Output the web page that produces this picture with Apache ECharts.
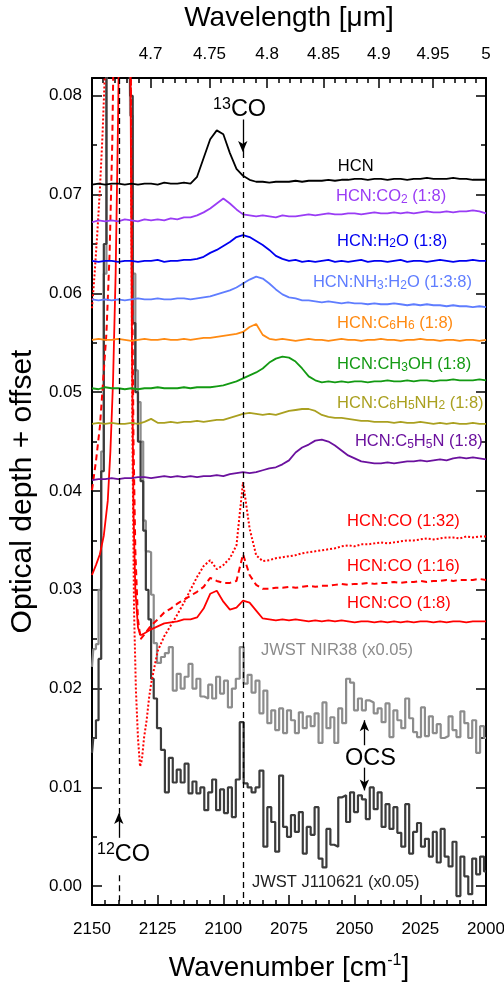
<!DOCTYPE html>
<html><head><meta charset="utf-8">
<script src="https://cdn.jsdelivr.net/npm/echarts@6/dist/echarts.min.js"></script>
<style>html,body{margin:0;padding:0;background:#fff}#c{width:504px;height:988px}</style>
</head><body><div id="c"></div>
<script>
// ---------------- DATA ----------------
// laboratory wavenumber grid (cm-1)
const labWn = [2150,2147.5,2145,2142.5,2140,2137.5,2135,2132.5,2130,2127.5,
 2125,2122.5,2120,2117.5,2115,2112.5,2110,2107.5,2105,2102.5,
 2100,2097.5,2095,2092.5,2090,2087.5,2085,2082.5,2080,2077.5,
 2075,2072.5,2070,2067.5,2065,2062.5,2060,2057.5,2055,2052.5,
 2050,2047.5,2045,2042.5,2040,2037.5,2035,2032.5,2030,2027.5,
 2025,2022.5,2020,2017.5,2015,2012.5,2010,2007.5,2005,2002.5,
 2000];
const hcn = [0.0710,0.0711,0.0710,0.0711,0.0711,0.0710,0.0711,0.0710,0.0711,0.0711,
 0.0710,0.0712,0.0711,0.0711,0.0712,0.0711,0.0718,0.0737,0.0756,0.0765,
 0.0761,0.0742,0.0726,0.0719,0.0715,0.0713,0.0713,0.0712,0.0713,0.0713,
 0.0713,0.0714,0.0713,0.0714,0.0714,0.0714,0.0715,0.0714,0.0715,0.0715,
 0.0716,0.0716,0.0715,0.0716,0.0716,0.0715,0.0716,0.0716,0.0715,0.0716,
 0.0716,0.0717,0.0716,0.0716,0.0716,0.0717,0.0716,0.0716,0.0715,0.0715,
 0.0715];
const hcnCo2 = [0.0672,0.0674,0.0673,0.0674,0.0673,0.0675,0.0674,0.0673,0.0675,0.0674,
 0.0675,0.0674,0.0676,0.0675,0.0677,0.0677,0.0679,0.0682,0.0686,0.0691,
 0.0696,0.0691,0.0685,0.0680,0.0679,0.0678,0.0679,0.0678,0.0677,0.0679,
 0.0678,0.0678,0.0679,0.0680,0.0679,0.0680,0.0681,0.0680,0.0680,0.0681,
 0.0681,0.0680,0.0681,0.0682,0.0681,0.0681,0.0682,0.0681,0.0682,0.0681,
 0.0682,0.0683,0.0682,0.0682,0.0683,0.0682,0.0683,0.0683,0.0684,0.0683,
 0.0681];
const hcnH2o = [0.0633,0.0632,0.0633,0.0633,0.0632,0.0633,0.0633,0.0632,0.0633,0.0633,
 0.0634,0.0632,0.0633,0.0633,0.0634,0.0634,0.0635,0.0637,0.0641,0.0644,
 0.0648,0.0652,0.0657,0.0659,0.0657,0.0653,0.0649,0.0644,0.0638,0.0635,
 0.0633,0.0634,0.0632,0.0633,0.0632,0.0633,0.0634,0.0632,0.0633,0.0632,
 0.0633,0.0634,0.0632,0.0633,0.0633,0.0632,0.0633,0.0634,0.0632,0.0633,
 0.0633,0.0632,0.0633,0.0634,0.0633,0.0632,0.0633,0.0633,0.0634,0.0633,
 0.0633];
const hcnNh3H2o = [0.0594,0.0593,0.0594,0.0593,0.0594,0.0593,0.0594,0.0595,0.0594,0.0594,
 0.0595,0.0594,0.0594,0.0595,0.0595,0.0594,0.0595,0.0596,0.0597,0.0599,
 0.0601,0.0603,0.0606,0.0610,0.0614,0.0617,0.0615,0.0610,0.0604,0.0599,
 0.0596,0.0595,0.0593,0.0593,0.0592,0.0591,0.0592,0.0591,0.0590,0.0591,
 0.0590,0.0590,0.0589,0.0590,0.0589,0.0589,0.0590,0.0589,0.0588,0.0589,
 0.0588,0.0589,0.0588,0.0588,0.0587,0.0588,0.0587,0.0587,0.0586,0.0587,
 0.0586];
const hcnC6h6 = [0.0553,0.0554,0.0553,0.0553,0.0554,0.0553,0.0552,0.0553,0.0554,0.0553,
 0.0553,0.0554,0.0553,0.0553,0.0554,0.0553,0.0554,0.0555,0.0555,0.0556,
 0.0557,0.0558,0.0559,0.0561,0.0566,0.0569,0.0558,0.0554,0.0553,0.0554,
 0.0553,0.0552,0.0553,0.0554,0.0553,0.0553,0.0552,0.0553,0.0554,0.0553,
 0.0553,0.0552,0.0553,0.0553,0.0554,0.0553,0.0553,0.0552,0.0553,0.0553,
 0.0554,0.0553,0.0553,0.0552,0.0553,0.0553,0.0552,0.0553,0.0553,0.0552,
 0.0553];
const hcnCh3oh = [0.0504,0.0503,0.0505,0.0504,0.0504,0.0503,0.0504,0.0503,0.0504,0.0504,
 0.0505,0.0504,0.0504,0.0504,0.0505,0.0504,0.0505,0.0505,0.0505,0.0506,
 0.0507,0.0509,0.0511,0.0514,0.0517,0.0520,0.0524,0.0530,0.0534,0.0536,
 0.0535,0.0531,0.0524,0.0516,0.0512,0.0510,0.0511,0.0510,0.0511,0.0510,
 0.0511,0.0511,0.0510,0.0511,0.0511,0.0512,0.0511,0.0511,0.0512,0.0511,
 0.0512,0.0512,0.0511,0.0512,0.0512,0.0513,0.0512,0.0512,0.0512,0.0513,
 0.0512];
const hcnAniline = [0.0468,0.0469,0.0468,0.0469,0.0468,0.0468,0.0469,0.0468,0.0470,0.0473,
 0.0469,0.0469,0.0470,0.0469,0.0470,0.0470,0.0471,0.0470,0.0471,0.0472,
 0.0472,0.0474,0.0476,0.0478,0.0479,0.0478,0.0477,0.0478,0.0477,0.0479,
 0.0481,0.0482,0.0483,0.0483,0.0481,0.0477,0.0475,0.0474,0.0474,0.0473,
 0.0472,0.0471,0.0471,0.0470,0.0470,0.0470,0.0469,0.0470,0.0469,0.0469,
 0.0470,0.0469,0.0468,0.0469,0.0468,0.0469,0.0468,0.0468,0.0469,0.0468,
 0.0468];
const hcnPyridine = [0.0411,0.0412,0.0412,0.0413,0.0412,0.0413,0.0413,0.0414,0.0414,0.0413,
 0.0414,0.0415,0.0414,0.0415,0.0414,0.0415,0.0414,0.0415,0.0415,0.0416,
 0.0415,0.0417,0.0418,0.0419,0.0418,0.0419,0.0421,0.0423,0.0424,0.0427,
 0.0431,0.0439,0.0444,0.0447,0.0451,0.0452,0.0450,0.0446,0.0441,0.0436,
 0.0433,0.0430,0.0429,0.0428,0.0428,0.0429,0.0428,0.0429,0.0430,0.0430,
 0.0431,0.0430,0.0431,0.0432,0.0431,0.0433,0.0434,0.0433,0.0434,0.0433,
 0.0432];
// HCN:CO mixtures: steep 12CO part on its own wavenumbers, then the lab grid
const co8EdgeWn = [2150,2148.5,2147,2145.5,2144,2143,2142,2141,2140,2139,2138,2137,2136,2135.3,2134.8,2134.2,2133.5,2132.5,2131.5];
const co8Edge = [0.0315,0.0325,0.0336,0.0355,0.0390,0.0440,0.0510,0.0620,0.0790,0.105,0.130,0.130,0.110,0.080,0.055,0.038,0.030,0.0262,0.0254];
const co8Tail = [0.0256,0.0260,
 0.0263,0.0266,0.0267,0.0268,0.0270,0.0270,0.0272,0.0281,0.0296,0.0299,
 0.0288,0.0280,0.0282,0.0289,0.0287,0.0279,0.0271,0.0270,0.0269,0.0270,
 0.0269,0.0270,0.0269,0.0268,0.0269,0.0268,0.0269,0.0268,0.0269,0.0268,
 0.0267,0.0268,0.0268,0.0267,0.0268,0.0267,0.0268,0.0267,0.0268,0.0267,
 0.0268,0.0268,0.0267,0.0268,0.0267,0.0268,0.0268,0.0267,0.0268,0.0268,
 0.0268];
const co16EdgeWn = [2150,2148.5,2147,2145.8,2144.5,2143.3,2142.3,2141.5,2140,2138,2136.5,2135.5,2134.8,2134.2,2133.5,2132.5,2131.5];
const co16Edge = [0.0401,0.0430,0.0465,0.0510,0.0560,0.0640,0.0750,0.0900,0.150,0.200,0.150,0.095,0.065,0.045,0.034,0.0270,0.0250];
const co16Tail = [0.0255,0.0264,
 0.0270,0.0277,0.0281,0.0286,0.0290,0.0294,0.0298,0.0303,0.0312,0.0309,
 0.0307,0.0307,0.0309,0.0336,0.0315,0.0305,0.0301,0.0301,0.0302,0.0302,
 0.0303,0.0302,0.0303,0.0304,0.0303,0.0304,0.0304,0.0305,0.0306,0.0305,
 0.0306,0.0306,0.0307,0.0306,0.0307,0.0307,0.0308,0.0307,0.0308,0.0308,
 0.0309,0.0308,0.0309,0.0309,0.0310,0.0309,0.0310,0.0310,0.0310,0.0311,
 0.0310];
const co32EdgeWn = [2150,2149,2148,2147,2146,2145,2144,2142,2139,2137,2136,2135.2,2134.6,2134,2133.3,2132.5,2131.7,2131,2130.2,2129.2,2128.3];
const co32Edge = [0.0585,0.0620,0.0660,0.0705,0.0760,0.0830,0.095,0.150,0.250,0.200,0.120,0.080,0.045,0.028,0.020,0.0150,0.0121,0.0128,0.0150,0.0168,0.0190];
const co32Tail = [0.0205,
 0.0238,0.0253,0.0264,0.0275,0.0287,0.0300,0.0313,0.0324,0.0330,0.0321,
 0.0325,0.0332,0.0345,0.0409,0.0362,0.0335,0.0329,0.0330,0.0332,0.0333,
 0.0334,0.0335,0.0337,0.0338,0.0339,0.0340,0.0341,0.0342,0.0344,0.0345,
 0.0344,0.0346,0.0346,0.0347,0.0348,0.0347,0.0348,0.0349,0.0350,0.0350,
 0.0351,0.0352,0.0351,0.0352,0.0353,0.0353,0.0352,0.0354,0.0353,0.0354,
 0.0354];
// JWST spectra (scaled x0.05)
const jwstEdgeWn = [2150,2149,2148,2147,2146,2145,2144,2142,2140,2138,2136,2135,2134,2133,2132,2131,2130,2129,2128,2127];
const jwstGridWn = [2126,2124.5,2123,2121.5,2120,2118.5,2117,2115.5,2114,2112.5,
 2111,2109.5,2108,2106.5,2105,2103.5,2102,2100.5,2099,2097.5,
 2096,2094.5,2093,2091.5,2090,2088.5,2087,2085.5,2084,2082.5,
 2081,2079.5,2078,2076.5,2075,2073.5,2072,2070.5,2069,2067.5,
 2066,2064.5,2063,2061.5,2060,2058.5,2057,2055.5,2054,2052.5,
 2051,2049.5,2048,2046.5,2045,2043.5,2042,2040.5,2039,2037.5,
 2036,2034.5,2033,2031.5,2030,2028.5,2027,2025.5,2024,2022.5,
 2021,2019.5,2018,2016.5,2015,2013.5,2012,2010.5,2009,2007.5,
 2006,2004.5,2003,2001.5,2000];
const nir38Edge = [0.0222,0.0240,0.0245,0.0300,0.0440,0.0620,0.0850,0.120,0.140,0.140,0.110,0.078,0.062,0.0522,0.0490,0.0450,0.0370,0.0339,0.0338,0.0295];
const nir38 = [0.0246,0.0226,0.0232,0.0236,0.0242,0.0198,0.0215,0.0200,0.0212,0.0225,
 0.0200,0.0210,0.0192,0.0190,0.0204,0.0190,0.0212,0.0195,0.0208,0.0181,
 0.0200,0.0210,0.0242,0.0205,0.0214,0.0196,0.0208,0.0175,0.0198,0.0165,
 0.0178,0.0158,0.0180,0.0155,0.0178,0.0168,0.0155,0.0176,0.0160,0.0172,
 0.0162,0.0175,0.0145,0.0186,0.0160,0.0171,0.0145,0.0180,0.0165,0.0210,
 0.0206,0.0178,0.0190,0.0178,0.0188,0.0186,0.0175,0.0180,0.0166,0.0185,
 0.0151,0.0178,0.0168,0.0160,0.0190,0.0170,0.0156,0.0151,0.0181,0.0152,
 0.0172,0.0155,0.0164,0.0150,0.0152,0.0172,0.0158,0.0151,0.0177,0.0165,
 0.0150,0.0168,0.0135,0.0162,0.0150];
const j110621Edge = [0.0135,0.0150,0.0168,0.0230,0.0420,0.0650,0.0900,0.130,0.150,0.150,0.120,0.080,0.057,0.050,0.045,0.041,0.036,0.030,0.027,0.021];
const j110621 = [0.0190,0.0160,0.0138,0.0095,0.0130,0.0105,0.0118,0.0105,0.0124,0.0094,
 0.0106,0.0094,0.0100,0.0077,0.0095,0.0108,0.0077,0.0098,0.0074,0.0100,
 0.0070,0.0108,0.0166,0.0104,0.0100,0.0095,0.0100,0.0117,0.0040,0.0080,
 0.0065,0.0035,0.0112,0.0060,0.0050,0.0072,0.0055,0.0075,0.0033,0.0060,
 0.0052,0.0080,0.0028,0.0019,0.0058,0.0042,0.0040,0.0090,0.0092,0.0065,
 0.0095,0.0075,0.0092,0.0088,0.0068,0.0100,0.0078,0.0095,0.0060,0.0083,
 0.0058,0.0080,0.0054,0.0040,0.0083,0.0033,0.0055,0.0064,0.0040,0.0048,
 0.0030,0.0055,0.0024,0.0058,0.0030,0.0020,0.0045,-0.0010,0.0030,0.0010,
 -0.0008,0.0028,0.0012,0.0030,0.0015];
// axis ticks
const yMajor = [0,0.01,0.02,0.03,0.04,0.05,0.06,0.07,0.08];
const yMinor = [0.005,0.015,0.025,0.035,0.045,0.055,0.065,0.075];
const wlMajor = [4.7,4.75,4.8,4.85,4.9,4.95,5.0];
const wlMinor = [4.66,4.67,4.68,4.69,4.71,4.72,4.73,4.74,4.76,4.77,4.78,4.79,4.81,4.82,4.83,4.84,
 4.86,4.87,4.88,4.89,4.91,4.92,4.93,4.94,4.96,4.97,4.98,4.99];
// line positions of 12CO and 13CO
const co12Wn = 2139.8, co13Wn = 2092.6, ocsWn = 2046.3;

// ---------------- CHART ----------------
const FONT = '"Liberation Sans", Arial, Helvetica, sans-serif';
const Y_MIN = -0.0019, Y_MAX = 0.0818;
const chart = echarts.init(document.getElementById('c'));
const pairs = (wn, v) => wn.map((w, i) => [w, v[i]]);
function line(name, data, color, width, type, extra) {
  return Object.assign({
    name, type: 'line', data, xAxisIndex: 0, yAxisIndex: 0,
    showSymbol: false, symbol: 'none', silent: true, animation: false,
    lineStyle: { color, width, type: type || 'solid' }, itemStyle: { color }
  }, extra || {});
}
const wlToWn = l => 1e4 / l;
const frame = { show: true, onZero: false, lineStyle: { color: '#000', width: 2 } };
const noLine = { show: false, onZero: false };
const tickStyle = { color: '#000', width: 1.5 };

const option = {
  animation: false,
  backgroundColor: '#fff',
  grid: { left: 92, right: 18, top: 78, bottom: 83, containLabel: false, outerBoundsMode: 'none' },
  xAxis: [
    { type: 'value', min: 2000, max: 2150, interval: 25, inverse: true, position: 'bottom',
      axisLine: frame, splitLine: { show: false },
      axisTick: { inside: true, length: 10, lineStyle: tickStyle },
      minorTick: { show: true, splitNumber: 5, length: 5, lineStyle: tickStyle },
      axisLabel: { fontSize: 17, color: '#000', fontFamily: FONT, margin: 16, formatter: v => String(v) },
      name: 'Wavenumber [cm{sup|-1}]', nameLocation: 'middle', nameGap: 48,
      nameTextStyle: { fontSize: 28, color: '#000', fontFamily: FONT, lineHeight: 30,
        rich: { sup: { fontSize: 16, verticalAlign: 'top', lineHeight: 8, fontFamily: FONT } } } },
    { type: 'value', min: 2000, max: 2150, inverse: true, position: 'top',
      axisLine: frame, splitLine: { show: false },
      axisTick: { inside: true, length: 10, lineStyle: tickStyle, customValues: wlMajor.map(wlToWn) },
      axisLabel: { fontSize: 17, color: '#000', fontFamily: FONT, margin: 15,
        customValues: wlMajor.map(wlToWn), formatter: v => String(+(1e4 / v).toFixed(2)) },
      name: 'Wavelength [μm]', nameLocation: 'middle', nameGap: 46,
      nameTextStyle: { fontSize: 28, color: '#000', fontFamily: FONT } },
    { type: 'value', min: 2000, max: 2150, inverse: true, position: 'top',
      axisLine: noLine, splitLine: { show: false }, axisLabel: { show: false },
      axisTick: { inside: true, length: 5, lineStyle: tickStyle, customValues: wlMinor.map(wlToWn) } }
  ],
  yAxis: [
    { type: 'value', min: Y_MIN, max: Y_MAX, position: 'left',
      axisLine: frame, splitLine: { show: false },
      axisTick: { inside: true, length: 10, lineStyle: tickStyle, customValues: yMajor },
      axisLabel: { fontSize: 17, color: '#000', fontFamily: FONT, margin: 10,
        customValues: yMajor, formatter: v => v.toFixed(2) },
      name: 'Optical depth + offset', nameLocation: 'middle', nameGap: 50,
      nameTextStyle: { fontSize: 30, color: '#000', fontFamily: FONT } },
    { type: 'value', min: Y_MIN, max: Y_MAX, position: 'left',
      axisLine: noLine, splitLine: { show: false }, axisLabel: { show: false },
      axisTick: { inside: true, length: 5, lineStyle: tickStyle, customValues: yMinor } },
    { type: 'value', min: Y_MIN, max: Y_MAX, position: 'right',
      axisLine: frame, splitLine: { show: false }, axisLabel: { show: false },
      axisTick: { inside: true, length: 10, lineStyle: tickStyle, customValues: yMajor } },
    { type: 'value', min: Y_MIN, max: Y_MAX, position: 'right',
      axisLine: noLine, splitLine: { show: false }, axisLabel: { show: false },
      axisTick: { inside: true, length: 5, lineStyle: tickStyle, customValues: yMinor } }
  ],
  series: [
    line('JWST NIR38 (x0.05)', pairs(jwstEdgeWn.concat(jwstGridWn), nir38Edge.concat(nir38)), '#8c8c8c', 2.2, 'solid', { step: 'middle' }),
    line('JWST J110621 (x0.05)', pairs(jwstEdgeWn.concat(jwstGridWn), j110621Edge.concat(j110621)), '#3c3c3c', 2.2, 'solid', { step: 'middle' }),
    line('HCN:CO (1:32)', pairs(co32EdgeWn.concat(labWn.slice(9)), co32Edge.concat(co32Tail)), '#ff0000', 2, 'dotted'),
    line('HCN:CO (1:16)', pairs(co16EdgeWn.concat(labWn.slice(8)), co16Edge.concat(co16Tail)), '#ff0000', 2, [6, 4]),
    line('HCN:CO (1:8)', pairs(co8EdgeWn.concat(labWn.slice(8)), co8Edge.concat(co8Tail)), '#ff0000', 1.8),
    line('HCN:C5H5N (1:8)', pairs(labWn, hcnPyridine), '#6b119e', 1.8),
    line('HCN:C6H5NH2 (1:8)', pairs(labWn, hcnAniline), '#aaa020', 1.8),
    line('HCN:CH3OH (1:8)', pairs(labWn, hcnCh3oh), '#139a13', 1.8),
    line('HCN:C6H6 (1:8)', pairs(labWn, hcnC6h6), '#ff8a12', 1.8),
    line('HCN:NH3:H2O (1:3:8)', pairs(labWn, hcnNh3H2o), '#5f7dff', 1.8),
    line('HCN:H2O (1:8)', pairs(labWn, hcnH2o), '#0000f0', 1.8),
    line('HCN:CO2 (1:8)', pairs(labWn, hcnCo2), '#9a3cf5', 1.8),
    line('HCN', pairs(labWn, hcn), '#000000', 1.8),
    // reference lines (dashed)
    { type: 'line', data: [], silent: true, xAxisIndex: 0, yAxisIndex: 0,
      markLine: { silent: true, animation: false, symbol: ['none', 'none'], label: { show: false },
        lineStyle: { color: '#000', width: 1.3, type: [6, 4] }, emphasis: { disabled: true },
        data: [
          [{ coord: [co12Wn, Y_MAX] }, { coord: [co12Wn, 0.0074] }],
          [{ coord: [co12Wn, 0.0011] }, { coord: [co12Wn, Y_MIN] }],
          [{ coord: [co13Wn, 0.0743] }, { coord: [co13Wn, Y_MIN] }]
        ] } },
    // arrows
    { type: 'line', data: [], silent: true, xAxisIndex: 0, yAxisIndex: 0,
      markLine: { silent: true, animation: false, symbol: ['none', 'arrow'], symbolSize: [7, 11], label: { show: false },
        lineStyle: { color: '#000', width: 1.3, type: 'solid' }, emphasis: { disabled: true },
        data: [
          [{ coord: [co12Wn, 0.0049] }, { coord: [co12Wn, 0.0074] }],
          [{ coord: [co13Wn, 0.0776] }, { coord: [co13Wn, 0.0743] }],
          [{ coord: [ocsWn, 0.01427] }, { coord: [ocsWn, 0.0168] }],
          [{ coord: [ocsWn, 0.0120] }, { coord: [ocsWn, 0.0097] }]
        ] } }
  ]
};
chart.setOption(option);

// ---------------- TEXT ANNOTATIONS (anchored in data coordinates) ----------------
const seriesLabels = [
  { text: 'HCN', wn: 2056.4, v: 0.0728, color: '#000000' },
  { text: 'HCN:CO{s|2} (1:8)', wn: 2057.1, v: 0.0698, color: '#9a3cf5' },
  { text: 'HCN:H{s|2}O (1:8)', wn: 2056.7, v: 0.0653, color: '#0000f0' },
  { text: 'HCN:NH{s|3}:H{s|2}O (1:3:8)', wn: 2065.9, v: 0.0611, color: '#5f7dff' },
  { text: 'HCN:C{s|6}H{s|6} (1:8)', wn: 2056.7, v: 0.0570, color: '#ff8a12' },
  { text: 'HCN:CH{s|3}OH (1:8)', wn: 2056.7, v: 0.0528, color: '#139a13' },
  { text: 'HCN:C{s|6}H{s|5}NH{s|2} (1:8)', wn: 2056.7, v: 0.0489, color: '#aaa020' },
  { text: 'HCN:C{s|5}H{s|5}N (1:8)', wn: 2049.9, v: 0.0450, color: '#6b119e' },
  { text: 'HCN:CO (1:32)', wn: 2052.9, v: 0.0369, color: '#ff0000' },
  { text: 'HCN:CO (1:16)', wn: 2052.9, v: 0.0324, color: '#ff0000' },
  { text: 'HCN:CO (1:8)', wn: 2052.9, v: 0.0286, color: '#ff0000' },
  { text: 'JWST NIR38 (x0.05)', wn: 2085.7, v: 0.0239, color: '#8c8c8c' },
  { text: 'JWST J110621 (x0.05)', wn: 2089.1, v: 0.00035, color: '#222222' }
];
const bigLabels = [
  { text: 'OCS', wn: 2053.7, v: 0.01296 },
  { text: '{p|13}CO', wn: 2103.9, v: 0.0786 },
  { text: '{p|12}CO', wn: 2148.1, v: 0.00324 }
];
const toPx = (wn, v) => chart.convertToPixel({ xAxisIndex: 0, yAxisIndex: 0 }, [wn, v]);
const graphics = [];
seriesLabels.forEach(l => {
  const p = toPx(l.wn, l.v);
  graphics.push({ type: 'text', x: p[0], y: p[1], silent: true, z: 100,
    style: { text: l.text, fill: l.color, fontSize: 16.5, fontFamily: FONT, lineHeight: 18,
      align: 'left', verticalAlign: 'middle', textAlign: 'left', textVerticalAlign: 'middle',
      rich: { s: { fontSize: 12, fontFamily: FONT, verticalAlign: 'bottom', lineHeight: 8 } } } });
});
bigLabels.forEach(l => {
  const p = toPx(l.wn, l.v);
  graphics.push({ type: 'text', x: p[0], y: p[1], silent: true, z: 100,
    style: { text: l.text, fill: '#000', fontSize: 23.5, fontFamily: FONT, lineHeight: 26,
      align: 'left', verticalAlign: 'middle', textAlign: 'left', textVerticalAlign: 'middle',
      rich: { p: { fontSize: 16, fontFamily: FONT, verticalAlign: 'top', lineHeight: 6 } } } });
});
chart.setOption({ graphic: graphics });
</script>
</body></html>
